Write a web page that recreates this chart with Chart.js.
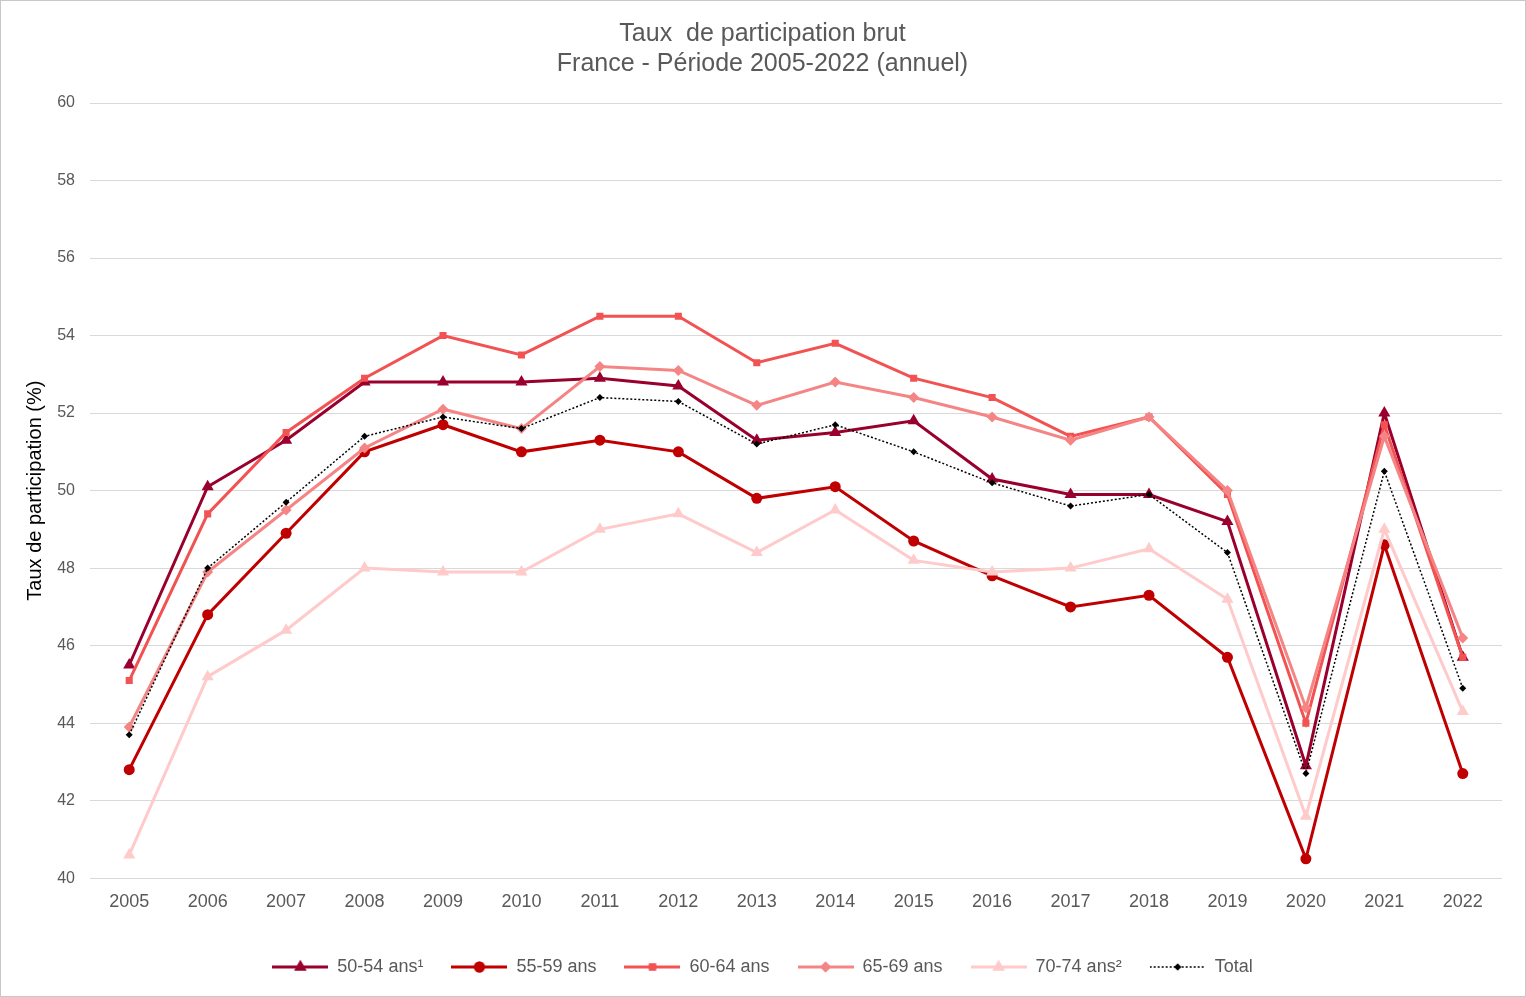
<!DOCTYPE html>
<html>
<head>
<meta charset="utf-8">
<script src="https://cdn.jsdelivr.net/npm/chart.js@4.4.1/dist/chart.umd.min.js"></script>
<style>
  html, body { margin: 0; padding: 0; background: #fff; }
  #wrap { width: 1526px; height: 997px; box-sizing: border-box; border: 1px solid #c8c8c8; position: relative; }
</style>
</head>
<body>
<div id="wrap"><canvas id="chart"></canvas></div>
<script>
// Data
const years = ['2005', '2006', '2007', '2008', '2009', '2010', '2011', '2012', '2013', '2014', '2015', '2016', '2017', '2018', '2019', '2020', '2021', '2022'];
const age5054 = [45.5, 50.1, 51.3, 52.8, 52.8, 52.8, 52.9, 52.7, 51.3, 51.5, 51.8, 50.3, 49.9, 49.9, 49.2, 42.9, 52.0, 45.7];
const age5559 = [42.8, 46.8, 48.9, 51.0, 51.7, 51.0, 51.3, 51.0, 49.8, 50.1, 48.7, 47.8, 47.0, 47.3, 45.7, 40.5, 48.6, 42.7];
const age6064 = [45.1, 49.4, 51.5, 52.9, 54.0, 53.5, 54.5, 54.5, 53.3, 53.8, 52.9, 52.4, 51.4, 51.9, 49.9, 44.0, 51.7, 45.7];
const age6569 = [43.9, 47.9, 49.5, 51.1, 52.1, 51.6, 53.2, 53.1, 52.2, 52.8, 52.4, 51.9, 51.3, 51.9, 50.0, 44.4, 51.4, 46.2];
const age7074 = [40.6, 45.2, 46.4, 48.0, 47.9, 47.9, 49.0, 49.4, 48.4, 49.5, 48.2, 47.9, 48.0, 48.5, 47.2, 41.6, 49.0, 44.3];
const total   = [43.7, 48.0, 49.7, 51.4, 51.9, 51.6, 52.4, 52.3, 51.2, 51.7, 51.0, 50.2, 49.6, 49.9, 48.4, 42.7, 50.5, 44.9];

const seriesNames = ['50-54 ans\u00b9', '55-59 ans', '60-64 ans', '65-69 ans', '70-74 ans\u00b2', 'Total'];
const yTicks = { min: 40, max: 60, step: 2 };

const grey = '#595959';
const styles = [
  { color: '#99002E', point: 'triangle', r: 7, w: 3, dash: [] },
  { color: '#C00000', point: 'circle', r: 5.5, w: 3, dash: [] },
  { color: '#F25252', point: 'rect', r: 5, w: 3, dash: [] },
  { color: '#F58585', point: 'rectRot', r: 5.5, w: 3, dash: [] },
  { color: '#FFCACA', point: 'triangle', r: 7, w: 3, dash: [] },
  { color: '#000000', point: 'rectRot', r: 3.5, w: 1.5, dash: [2, 2] }
];

// legend swatch: a short line with the marker in the middle
function makeSwatch(st) {
  const c = document.createElement('canvas');
  c.width = 56; c.height = 16;
  const g = c.getContext('2d');
  g.strokeStyle = st.color;
  g.lineWidth = st.w;
  g.setLineDash(st.dash);
  g.beginPath(); g.moveTo(0, 8); g.lineTo(56, 8); g.stroke();
  g.setLineDash([]);
  g.fillStyle = st.color;
  Chart.helpers.drawPoint(g, { pointStyle: st.point, radius: st.r, borderWidth: 0 }, 28, 8);
  g.fill();
  return c;
}

const allData = [age5054, age5559, age6064, age6569, age7074, total];

window.addEventListener('load', () => {
  const datasets = allData.map((d, i) => {
    const st = styles[i];
    return {
      label: seriesNames[i],
      data: d,
      borderColor: st.color,
      backgroundColor: st.color,
      borderWidth: st.w,
      borderDash: st.dash,
      pointStyle: st.point,
      pointRadius: st.r,
      pointBorderWidth: 0,
      pointBackgroundColor: st.color,
      tension: 0,
      order: 6 - i
    };
  });

  const swatches = styles.map(makeSwatch);

  new Chart(document.getElementById('chart'), {
    type: 'line',
    data: { labels: years, datasets: datasets },
    options: {
      responsive: true,
      maintainAspectRatio: false,
      animation: false,
      layout: { padding: { left: 22, right: 23, top: 0, bottom: 10 } },
      scales: {
        x: {
          offset: true,
          grid: { display: false },
          border: { display: false },
          ticks: { color: grey, font: { family: 'Liberation Sans', size: 18 }, padding: 5 },
          // empty title only used as spacer above the legend
          title: { display: true, text: ' ', font: { size: 1 }, padding: { top: 0, bottom: 11 } }
        },
        y: {
          min: yTicks.min, max: yTicks.max,
          grid: { color: '#d9d9d9', lineWidth: 1, drawTicks: false },
          border: { display: false },
          ticks: { stepSize: yTicks.step, color: grey, font: { family: 'Liberation Sans', size: 16 }, padding: 15 },
          title: { display: true, text: 'Taux de participation (%)', color: '#000', font: { family: 'Liberation Sans', size: 20 }, padding: { top: 0, bottom: 0 } },
          afterFit: (scale) => { scale.width = 67; }
        }
      },
      plugins: {
        title: {
          display: true,
          text: ['Taux  de participation brut', 'France - Période 2005-2022 (annuel)'],
          color: grey,
          font: { family: 'Liberation Sans', size: 25, weight: 'normal', lineHeight: 1.2 },
          padding: { top: 18, bottom: 24 }
        },
        legend: {
          position: 'bottom',
          labels: {
            usePointStyle: true,
            pointStyleWidth: 56,
            padding: 28,
            color: grey,
            font: { family: 'Liberation Sans', size: 18 },
            sort: (a, b) => a.datasetIndex - b.datasetIndex,
            generateLabels: (chart) => chart.data.datasets.map((ds, i) => ({
              text: ds.label,
              pointStyle: swatches[i],
              fillStyle: ds.borderColor,
              strokeStyle: ds.borderColor,
              fontColor: grey,
              lineWidth: 0,
              hidden: false,
              datasetIndex: i
            }))
          }
        },
        tooltip: { enabled: false }
      }
    }
  });
});
</script>
</body>
</html>
